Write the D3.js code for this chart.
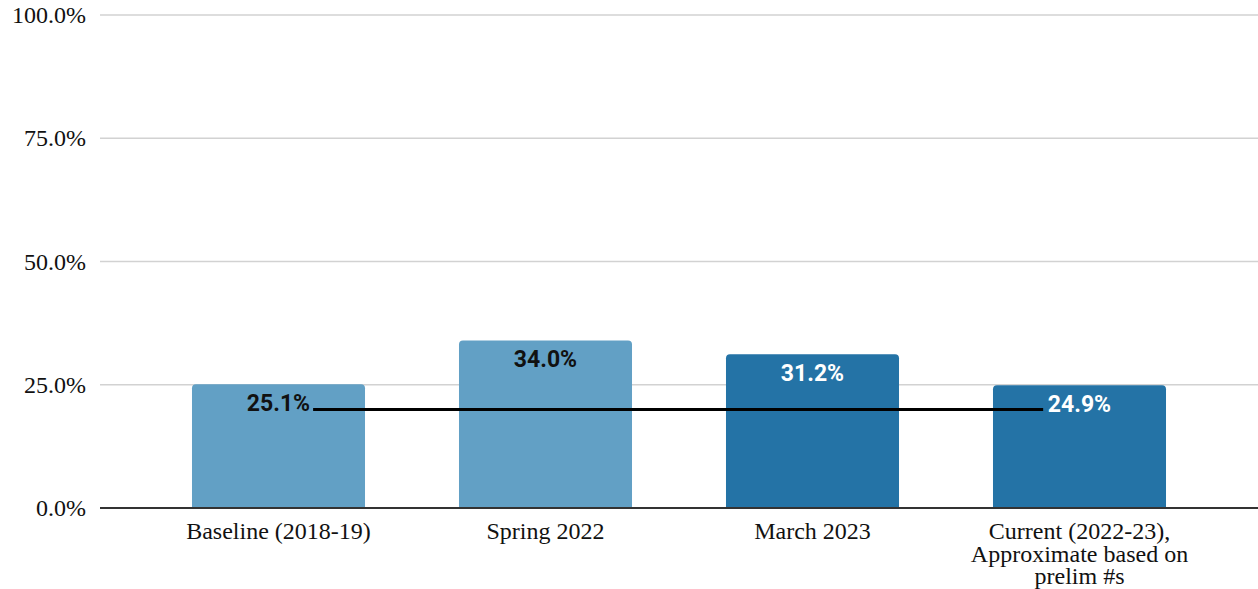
<!DOCTYPE html>
<html>
<head>
<meta charset="utf-8">
<script src="https://cdn.jsdelivr.net/npm/d3@7"></script>
<style>
	body { margin: 0; background: #fff; }
</style>
</head>
<body>
<div class="chart"></div>
<script>
const width = 1258,
	height = 589

// values
const categories = [
	'Baseline (2018-19)',
	'Spring 2022',
	'March 2023',
	'Current (2022-23), Approximate based on prelim #s',
]
const labelLines = [
	['Baseline (2018-19)'],
	['Spring 2022'],
	['March 2023'],
	['Current (2022-23),', 'Approximate based on', 'prelim #s'],
]
const values = [25.1, 34.0, 31.2, 24.9]
const barColors = ['#62a0c5', '#62a0c5', '#2473a6', '#2473a6']
const labelColors = ['#111', '#111', '#fff', '#fff']
const targetLine = [20, 20]
const yTicks = [0, 25, 50, 75, 100]

const svg = d3
	.select('.chart')
	.append('svg')
	.attr('width', width)
	.attr('height', height)

const x = d3
	.scaleBand()
	.domain(categories)
	.range([145, 1213])
	.paddingInner(0.352)
	.paddingOuter(0.176)

const y = d3.scaleLinear().domain([0, 100]).range([508, 15])

// gridlines + tick labels
svg
	.selectAll('.grid')
	.data(yTicks.filter(d => d > 0))
	.enter()
	.append('line')
	.attr('x1', 100)
	.attr('x2', width)
	.attr('y1', d => y(d))
	.attr('y2', d => y(d))
	.attr('stroke', '#d2d2d2')
	.attr('stroke-width', 1.5)

svg
	.selectAll('.ytick')
	.data(yTicks)
	.enter()
	.append('text')
	.attr('x', 86)
	.attr('y', d => y(d) + 8)
	.attr('text-anchor', 'end')
	.style('font-family', '"Liberation Serif", "Times New Roman", serif')
	.style('font-size', '24px')
	.style('fill', '#111')
	.text(d => d.toFixed(1) + '%')

// bars with rounded tops
const r = 4
svg
	.selectAll('.bar')
	.data(values)
	.enter()
	.append('path')
	.attr('fill', (d, i) => barColors[i])
	.attr('d', (d, i) => {
		const x0 = x(categories[i]),
			x1 = x0 + x.bandwidth(),
			y0 = y(0),
			y1 = y(d)
		return `M${x0},${y0}V${y1 + r}Q${x0},${y1} ${x0 + r},${y1}H${x1 - r}Q${x1},${y1} ${x1},${y1 + r}V${y0}Z`
	})

// baseline axis
svg
	.append('line')
	.attr('x1', 100)
	.attr('x2', width)
	.attr('y1', y(0))
	.attr('y2', y(0))
	.attr('stroke', '#333')
	.attr('stroke-width', 2)

// black reference line at 20%
const lineX = [
	x(categories[0]) + x.bandwidth() * 0.7,
	x(categories[3]) + x.bandwidth() * 0.29,
]
svg
	.append('path')
	.datum(targetLine)
	.attr('fill', 'none')
	.attr('stroke', '#000')
	.attr('stroke-width', 3)
	.attr(
		'd',
		d3
			.line()
			.x((d, i) => lineX[i])
			.y(d => y(d))
	)

// value labels
svg
	.selectAll('.val')
	.data(values)
	.enter()
	.append('text')
	.attr('x', (d, i) => x(categories[i]) + x.bandwidth() / 2)
	.attr('y', d => y(d) + 27)
	.attr('text-anchor', 'middle')
	.style('font-family', 'Roboto, sans-serif')
	.style('font-weight', 'bold')
	.style('font-size', '23px')
	.style('fill', (d, i) => labelColors[i])
	.text(d => d.toFixed(1) + '%')

// category labels
const xl = svg
	.selectAll('.xlab')
	.data(categories)
	.enter()
	.append('text')
	.attr('text-anchor', 'middle')
	.style('font-family', '"Liberation Serif", "Times New Roman", serif')
	.style('font-size', '24px')
	.style('fill', '#111')

xl.selectAll('tspan')
	.data((d, i) => labelLines[i].map(t => ({ t, c: d })))
	.enter()
	.append('tspan')
	.attr('x', d => x(d.c) + x.bandwidth() / 2)
	.attr('y', (d, j) => 539 + j * 22.5)
	.text(d => d.t)
</script>
</body>
</html>
